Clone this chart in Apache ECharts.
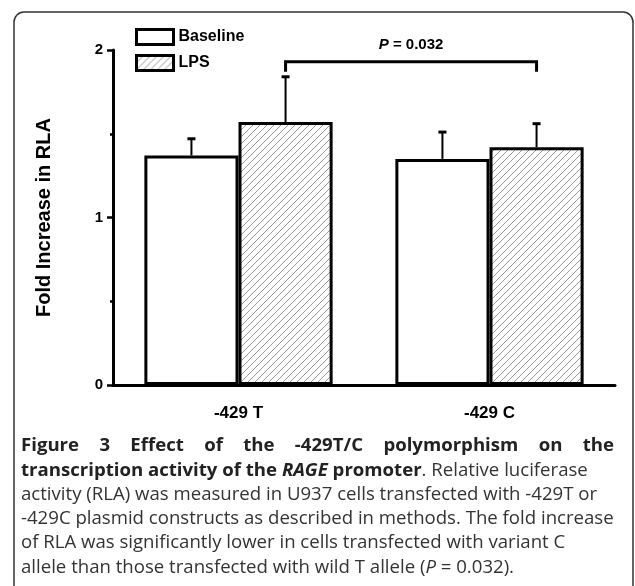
<!DOCTYPE html>
<html><head><meta charset="utf-8">
<script src="https://cdn.jsdelivr.net/npm/echarts@6/dist/echarts.min.js"></script>
<style>html,body{margin:0;padding:0;background:#fff}#c{width:635px;height:586px}</style>
</head><body><div id="c"></div>
<script>
// ---- data ----
const categories = ['-429 T', '-429 C'];
const seriesNames = ['Baseline', 'LPS'];
const baseline = [1.37, 1.35];
const baselineErr = [0.10, 0.16];
const lps = [1.57, 1.42];
const lpsErr = [0.27, 0.14];
const yMin = 0, yMax = 2, yInterval = 1;
const yAxisTitle = 'Fold Increase in RLA';
const pText = 'P = 0.032';
const bracketTop = 1.93, bracketEnd = 1.87;
const captionLine1 = 'Figure 3 Effect of the -429T/C polymorphism on the';
const captionLines = [
  '{b|transcription activity of the }{bi|RAGE}{b| promoter}{n|. Relative luciferase}',
  '{n|activity (RLA) was measured in U937 cells transfected with -429T or}',
  '{n|-429C plasmid constructs as described in methods. The fold increase}',
  '{n|of RLA was significantly lower in cells transfected with variant C}',
  '{n|allele than those transfected with wild T allele (}{i|P}{n| = 0.032).}'
];

// ---- styles ----
const AX = '"Liberation Sans", Arial, sans-serif';
const CAP = '"Open Sans", sans-serif';
const BAR_FRAC = 0.375;

const ctx = document.createElement('canvas').getContext('2d');
ctx.font = '16px ' + CAP;
const refW = ctx.measureText('-429C plasmid constructs as described in methods. The fold increase').width;
const capSize = Math.round(16 * 592 / refW * 10) / 10;

const pc = document.createElement('canvas');
pc.width = 7; pc.height = 7;
const p = pc.getContext('2d');
p.fillStyle = '#fff'; p.fillRect(0, 0, 7, 7);
p.strokeStyle = '#999'; p.lineWidth = 1;
p.beginPath();
p.moveTo(-1, 8); p.lineTo(8, -1);
p.moveTo(-1, 1); p.lineTo(1, -1);
p.moveTo(6, 8); p.lineTo(8, 6);
p.stroke();
const hatch = { image: pc, repeat: 'repeat' };

const chart = echarts.init(document.getElementById('c'), null, { renderer: 'canvas' });

function errRender(params, api) {
  const cat = api.value(0), v = api.value(1), e = api.value(2), side = api.value(3);
  const band = api.size([1, 0])[0];
  const x = api.coord([cat, 0])[0] + side * band * BAR_FRAC / 2;
  const y0 = api.coord([cat, v])[1], y1 = api.coord([cat, v + e])[1];
  return { type: 'group', children: [
    { type: 'line', shape: { x1: x, y1: y0, x2: x, y2: y1 }, style: { stroke: '#000', lineWidth: 2 } },
    { type: 'line', shape: { x1: x - 4, y1: y1, x2: x + 4, y2: y1 }, style: { stroke: '#000', lineWidth: 3 } }
  ]};
}
function bracketRender(params, api) {
  const band = api.size([1, 0])[0];
  const xa = api.coord([api.value(0), 0])[0] + band * BAR_FRAC / 2;
  const xb = api.coord([api.value(1), 0])[0] + band * BAR_FRAC / 2;
  const yt = api.coord([0, api.value(2)])[1];
  const ye = api.coord([0, api.value(3)])[1];
  return { type: 'group', children: [
    { type: 'polyline', shape: { points: [[xa, ye], [xa, yt], [xb, yt], [xb, ye]] },
      style: { stroke: '#000', lineWidth: 3, fill: null } },
    { type: 'text', x: (xa + xb) / 2, y: yt - 17,
      style: { text: '{i|P}{n|' + pText.slice(1) + '}', align: 'center', verticalAlign: 'middle',
        rich: { i: { font: 'italic bold 15px ' + AX, fill: '#000' }, n: { font: 'bold 15px ' + AX, fill: '#000' } } } }
  ]};
}

const errData = [];
for (let i = 0; i < categories.length; i++) {
  errData.push([i, baseline[i], baselineErr[i], -1]);
  errData.push([i, lps[i], lpsErr[i], 1]);
}

const graphics = [
  { type: 'rect', shape: { x: 14, y: 12, width: 619, height: 700, r: 10 },
    style: { fill: null, stroke: '#333', lineWidth: 1.5 }, silent: true }
];
(function () {
  const font = 'bold ' + capSize + 'px ' + CAP;
  ctx.font = font;
  const words = captionLine1.split(' ');
  const widths = words.map(w => ctx.measureText(w).width);
  const total = widths.reduce((a, b) => a + b, 0);
  const x0 = 21, x1 = 614;
  const gap = (x1 - x0 - total) / (words.length - 1);
  let x = x0;
  words.forEach((w, i) => {
    graphics.push({ type: 'text', x: x, y: 446, style: { text: w, font: font, fill: '#222', align: 'left', verticalAlign: 'middle' } });
    x += widths[i] + gap;
  });
})();
captionLines.forEach((t, i) => {
  graphics.push({ type: 'text', x: 21, y: 470.5 + i * 24.2, style: {
    text: t, align: 'left', verticalAlign: 'middle',
    rich: {
      b: { font: 'bold ' + capSize + 'px ' + CAP, fill: '#222' },
      bi: { font: 'italic bold ' + capSize + 'px ' + CAP, fill: '#222' },
      n: { font: capSize + 'px ' + CAP, fill: '#333' },
      i: { font: 'italic ' + capSize + 'px ' + CAP, fill: '#333' }
    } } });
});

chart.setOption({
  animation: false,
  backgroundColor: '#fff',
  grid: { left: 113, right: 20, top: 50, bottom: 201 },
  legend: {
    data: seriesNames, orient: 'vertical', left: 130, top: 23, itemWidth: 37, itemHeight: 15, itemGap: 8,
    icon: 'rect', textStyle: { fontFamily: AX, fontWeight: 'bold', fontSize: 16, color: '#000', padding: [0, 0, 0, 0] },
    itemStyle: { borderColor: '#000', borderWidth: 3 }
  },
  xAxis: {
    type: 'category', data: categories,
    axisLine: { lineStyle: { color: '#000', width: 3 } },
    axisTick: { show: false },
    axisLabel: { fontFamily: AX, fontWeight: 'bold', fontSize: 17, color: '#000', margin: 20 }
  },
  yAxis: {
    type: 'value', min: yMin, max: yMax, interval: yInterval,
    name: yAxisTitle, nameLocation: 'middle', nameRotate: 90, nameGap: 59,
    nameTextStyle: { fontFamily: AX, fontWeight: 'bold', fontSize: 20, color: '#000' },
    axisLine: { show: true, lineStyle: { color: '#000', width: 3 } },
    axisTick: { show: true, length: 6, lineStyle: { color: '#000', width: 2.5 } },
    minorTick: { show: true, splitNumber: 2, length: 3, lineStyle: { color: '#000', width: 2.5 } },
    splitLine: { show: false },
    axisLabel: { fontFamily: AX, fontWeight: 'bold', fontSize: 15, color: '#000', margin: 10 }
  },
  series: [
    { name: seriesNames[0], type: 'bar', data: baseline, barWidth: (BAR_FRAC * 100) + '%', barGap: '0%',
      itemStyle: { color: '#fff', borderColor: '#000', borderWidth: 3 } },
    { name: seriesNames[1], type: 'bar', data: lps, barWidth: (BAR_FRAC * 100) + '%', barGap: '0%',
      itemStyle: { color: hatch, borderColor: '#000', borderWidth: 3 } },
    { type: 'custom', renderItem: errRender, data: errData, z: 5, silent: true },
    { type: 'custom', renderItem: bracketRender, data: [[0, 1, bracketTop, bracketEnd]], z: 5, silent: true }
  ],
  graphic: graphics
});
</script></body></html>
